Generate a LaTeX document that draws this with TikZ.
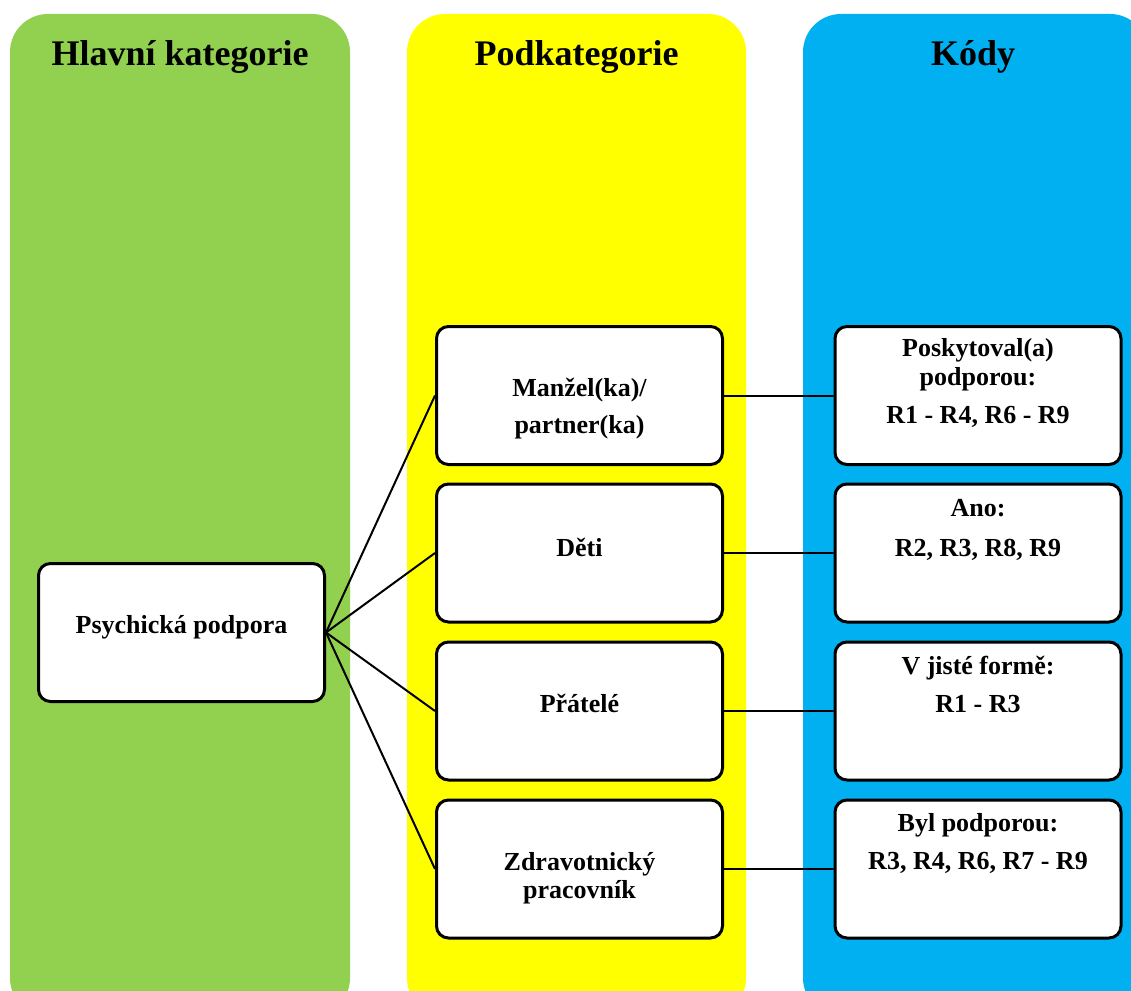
\documentclass[tikz,border=0pt]{standalone}
\usepackage{fontspec}
\setmainfont{Liberation Serif}
\definecolor{colgreen}{HTML}{92D050}
\definecolor{colyellow}{HTML}{FFFF00}
\definecolor{colblue}{HTML}{00B0F0}
\begin{document}
\begin{tikzpicture}[x=1pt,y=-1pt,
  column/.style={rounded corners=38pt},
  card/.style={draw=black, fill=white, line width=3pt, rounded corners=12pt,
    rectangle, minimum width=286pt, minimum height=138pt, inner sep=0pt},
  link/.style={draw=black, line width=2pt},
  heading/.style={anchor=base, inner sep=0pt, font=\fontsize{36}{40}\selectfont\bfseries},
  label/.style={anchor=base, inner sep=0pt, font=\fontsize{26}{30}\selectfont\bfseries}]
\clip (0,0) rectangle (1131,990);

% three coloured columns
\fill[colgreen, column] (10,14) rectangle (350,1016);
\fill[colyellow, column] (407,14) rectangle (746,1016);
\fill[colblue, column] (803,14) rectangle (1148,1016);

\node[heading] (h1) at (180,66) {Hlavní kategorie};
\node[heading] (h2) at (576.5,66) {Podkategorie};
\node[heading] (h3) at (973,66) {Kódy};

% main category
\node[card] (main) at (181.5,632.5) {};

% subcategories
\node[card] (s1) at (579.5,395.5) {};
\node[card] (s2) at (579.5,553) {};
\node[card] (s3) at (579.5,711) {};
\node[card] (s4) at (579.5,869) {};

% codes
\node[card] (c1) at (978,395.5) {};
\node[card] (c2) at (978,553) {};
\node[card] (c3) at (978,711) {};
\node[card] (c4) at (978,869) {};

% connectors
\foreach \i in {1,...,4}{
  \draw[link] (main.east) -- (s\i.west);
  \draw[link] (s\i.east) -- (c\i.west);
}

% card texts
\node[label] (tmain) at (181.5,633) {Psychická podpora};

\node[label] (ts1a) at (579.5,396) {Manžel(ka)/};
\node[label] (ts1b) at (579.5,433) {partner(ka)};
\node[label] (ts2) at (579.5,556) {Děti};
\node[label] (ts3) at (579.5,712) {Přátelé};
\node[label] (ts4a) at (579.5,870) {Zdravotnický};
\node[label] (ts4b) at (579.5,898) {pracovník};

\node[label] (tc1a) at (978,356) {Poskytoval(a)};
\node[label] (tc1b) at (978,385) {podporou:};
\node[label] (tc1c) at (978,423) {R1 - R4, R6 - R9};
\node[label] (tc2a) at (978,516) {Ano:};
\node[label] (tc2b) at (978,556) {R2, R3, R8, R9};
\node[label] (tc3a) at (978,674) {V jisté formě:};
\node[label] (tc3b) at (978,712) {R1 - R3};
\node[label] (tc4a) at (978,831) {Byl podporou:};
\node[label] (tc4b) at (978,869) {R3, R4, R6, R7 - R9};
\end{tikzpicture}
\end{document}
